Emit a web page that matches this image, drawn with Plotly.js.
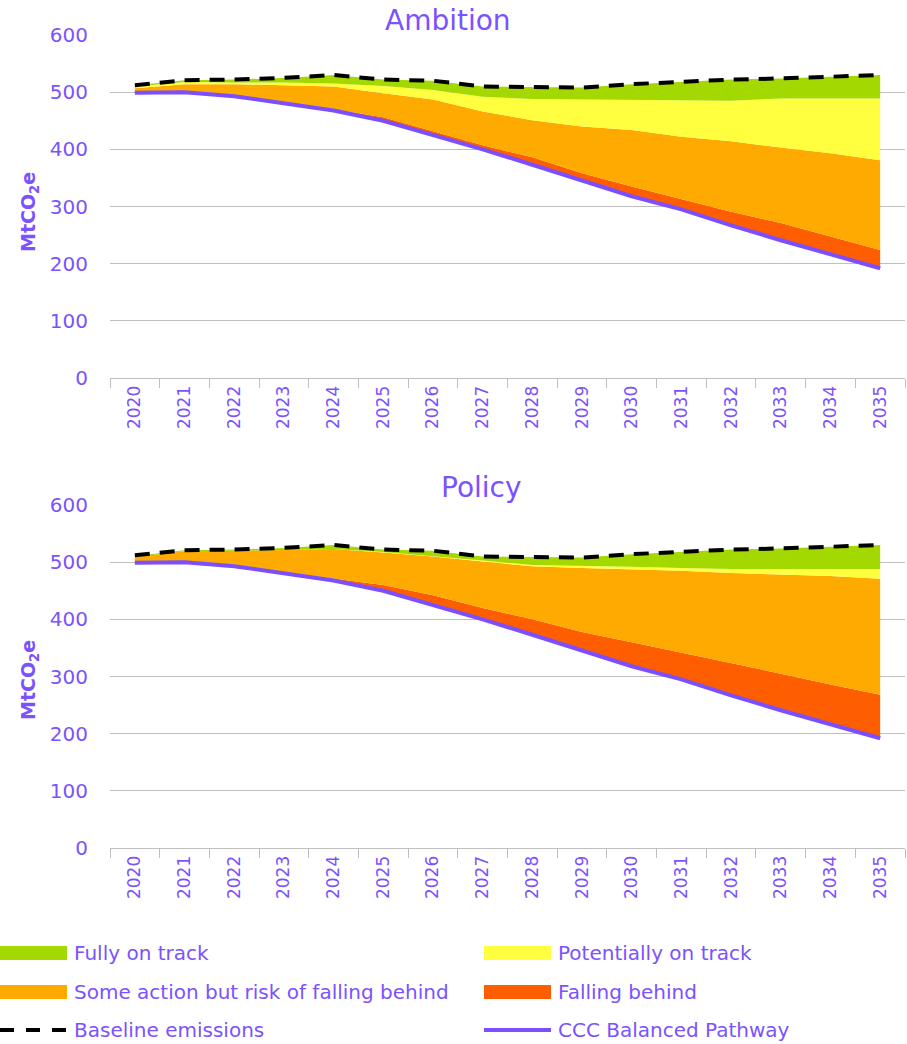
<!DOCTYPE html>
<html>
<head>
<meta charset="utf-8">
<script src="https://cdn.plot.ly/plotly-3.0.1.min.js"></script>
<style>html,body{margin:0;padding:0;background:#fff;}#chart{width:907px;height:1044px;}</style>
</head>
<body>
<div id="chart"></div>
<script>
// ---- data ----
const years = ['2020','2021','2022','2023','2024','2025','2026','2027','2028','2029','2030','2031','2032','2033','2034','2035'];
const pathway  = [499, 500, 493, 481, 468, 450, 425, 400, 373, 345, 318, 295, 267, 241, 217, 192];
const baseline = [512, 521, 522, 525, 530, 522, 520, 510, 509, 508, 514, 518, 522, 524, 527, 530];

// Ambition: band thicknesses stacked above the pathway
const ambFalling   = [0, 0, 1, 1, 2, 6, 7, 7, 13, 13, 17, 18, 24, 30, 31, 32];
const ambSome      = [8, 14, 20, 30, 40, 42, 55, 59, 65, 82, 99, 109, 123, 132, 145, 157];
const ambPotential = [3, 4, 3, 5, 5, 13, 17, 26, 37, 47, 52, 63, 71, 86, 96, 108];
const ambFully     = [2, 3, 5, 8, 15, 11, 16, 18, 21, 21, 28, 33, 37, 35, 38, 41];

// Policy
const polFalling   = [0, 0, 1, 2, 4, 10, 17, 20, 27, 33, 42, 47, 57, 64, 69, 76];
const polSome      = [10, 19, 26, 38, 51, 57, 68, 81, 93, 112, 128, 143, 157, 174, 190, 203];
const polPotential = [0, 0, 0, 0, 0, 1, 1, 2, 2, 4, 4, 5, 7, 9, 12, 17];
const polFully     = [2, 2, 2, 4, 7, 4, 9, 7, 14, 14, 22, 28, 34, 36, 39, 42];

const seriesNames = ['Fully on track', 'Potentially on track', 'Some action but risk of falling behind', 'Falling behind', 'Baseline emissions', 'CCC Balanced Pathway'];
const titles = ['Ambition', 'Policy'];

// ---- styles ----
const PURPLE = '#7B4FFF';
const TXT = '#7B52FF';
const GREEN = '#A3D900';
const YELLOW = '#FFFF40';
const ORANGE = '#FFAA00';
const RED = '#FF5E00';
const GRID = '#BFBFBF';
const FONT = '"DejaVu Sans", sans-serif';

const W = 907, H = 1044, L = 110, R = 2;
const PW = W - L - R;
const px = v => (v - L) / PW;
const py = v => 1 - v / H;

function bands(xa, ya, grp, falling, some, potential, fully) {
  const base = {x: years, y: pathway, xaxis: xa, yaxis: ya, stackgroup: grp, mode: 'lines',
    line: {width: 0}, fillcolor: 'rgba(0,0,0,0)', showlegend: false, hoverinfo: 'skip'};
  const mk = (vals, col, name) => ({x: years, y: vals, xaxis: xa, yaxis: ya, stackgroup: grp, mode: 'lines',
    line: {width: 0, color: col}, fillcolor: col, name: name, showlegend: false});
  return [
    base,
    mk(falling, RED, seriesNames[3]),
    mk(some, ORANGE, seriesNames[2]),
    mk(potential, YELLOW, seriesNames[1]),
    mk(fully, GREEN, seriesNames[0]),
    {x: years, y: pathway, xaxis: xa, yaxis: ya, mode: 'lines', line: {color: PURPLE, width: 4}, name: seriesNames[5], showlegend: false},
    {x: years, y: baseline, xaxis: xa, yaxis: ya, mode: 'lines', line: {color: '#000', width: 4, dash: '15px,10px'}, name: seriesNames[4], showlegend: false}
  ];
}

const data = [].concat(
  bands('x', 'y', 'a', ambFalling, ambSome, ambPotential, ambFully),
  bands('x2', 'y2', 'b', polFalling, polSome, polPotential, polFully)
);

function xAxis(anchor) {
  return {domain: [0, 1], anchor: anchor, type: 'category', range: [-0.5, years.length - 0.5], tickangle: -90,
    tickfont: {family: FONT, size: 17, color: TXT}, showgrid: false, showline: true,
    linecolor: GRID, linewidth: 1, ticks: 'outside', tickson: 'boundaries', ticklen: 9,
    tickcolor: GRID, fixedrange: true, automargin: false};
}
function yAxis(anchor, dom) {
  return {domain: dom, anchor: anchor, range: [0, 600], dtick: 100, tick0: 0,
    gridcolor: GRID, gridwidth: 1, zeroline: false, showline: false, ticks: '',
    tickfont: {family: FONT, size: 20, color: TXT}, ticklabelstandoff: 21,
    fixedrange: true, automargin: false};
}

const annotations = [
  {text: titles[0], xref: 'paper', yref: 'paper', x: px(448), y: py(20), xanchor: 'center', yanchor: 'middle', showarrow: false, font: {family: FONT, size: 28, color: TXT}},
  {text: titles[1], xref: 'paper', yref: 'paper', x: px(481), y: py(487), xanchor: 'center', yanchor: 'middle', showarrow: false, font: {family: FONT, size: 28, color: TXT}},
  {text: '<b>MtCO<sub>2</sub>e</b>', xref: 'paper', yref: 'paper', x: px(30), y: py(212), xanchor: 'center', yanchor: 'middle', textangle: -90, showarrow: false, font: {family: FONT, size: 19, color: TXT}},
  {text: '<b>MtCO<sub>2</sub>e</b>', xref: 'paper', yref: 'paper', x: px(30), y: py(680), xanchor: 'center', yanchor: 'middle', textangle: -90, showarrow: false, font: {family: FONT, size: 19, color: TXT}}
];

// legend (drawn as shapes + text)
const legendRows = [953, 992, 1030];
const legendItems = [
  {name: seriesNames[0], col: 0, row: 0, type: 'rect', color: GREEN},
  {name: seriesNames[1], col: 1, row: 0, type: 'rect', color: YELLOW},
  {name: seriesNames[2], col: 0, row: 1, type: 'rect', color: ORANGE},
  {name: seriesNames[3], col: 1, row: 1, type: 'rect', color: RED},
  {name: seriesNames[4], col: 0, row: 2, type: 'dash', color: '#000'},
  {name: seriesNames[5], col: 1, row: 2, type: 'line', color: PURPLE}
];
const colX = [[0, 67, 72], [484, 551, 556]];
const shapes = [];
legendItems.forEach(it => {
  const [x0, x1, tx] = colX[it.col];
  const yc = legendRows[it.row];
  if (it.type === 'rect') {
    shapes.push({type: 'rect', xref: 'paper', yref: 'paper', x0: px(x0), x1: px(x1), y0: py(yc + 7), y1: py(yc - 7), fillcolor: it.color, line: {width: 0}});
  } else {
    shapes.push({type: 'line', xref: 'paper', yref: 'paper', x0: px(x0), x1: px(x1), y0: py(yc), y1: py(yc),
      line: {color: it.color, width: 4, dash: it.type === 'dash' ? '14px,12px' : 'solid'}});
  }
  annotations.push({text: it.name, xref: 'paper', yref: 'paper', x: px(tx), y: py(yc), xanchor: 'left', yanchor: 'middle', showarrow: false, font: {family: FONT, size: 20, color: TXT}});
});

const layout = {
  width: W, height: H,
  margin: {l: L, r: R, t: 0, b: 0},
  paper_bgcolor: '#fff', plot_bgcolor: '#fff',
  showlegend: false,
  xaxis: xAxis('y'),
  yaxis: yAxis('x', [py(378), py(35)]),
  xaxis2: xAxis('y2'),
  yaxis2: yAxis('x2', [py(848), py(505)]),
  annotations: annotations,
  shapes: shapes,
  font: {family: FONT, color: TXT}
};

Plotly.newPlot('chart', data, layout, {displayModeBar: false, staticPlot: true});
</script>
</body>
</html>
